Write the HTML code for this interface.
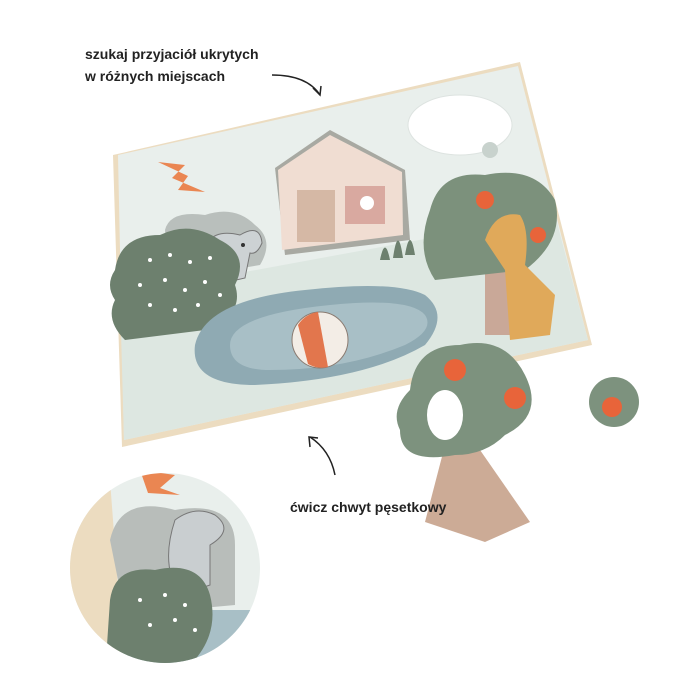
<!DOCTYPE html>
<html><head><meta charset="utf-8"><style>
html,body{margin:0;padding:0;background:#fff;}
svg{display:block}
text{font-family:"Liberation Sans",sans-serif;font-weight:bold;fill:#222}
</style></head><body>
<svg width="700" height="700" viewBox="0 0 700 700" xmlns="http://www.w3.org/2000/svg">
<defs>
<clipPath id="cc"><circle cx="165" cy="568" r="95"/></clipPath>
</defs>
<rect width="700" height="700" fill="#fff"/>
<polygon points="113,155 520,62 592,345 122,447" fill="#ecdcc0"/>
<polygon points="118,155 518,66 588,340 124,440" fill="#e9efec"/>
<polygon points="120,295 555,215 588,340 124,440" fill="#dde7e1"/>
<ellipse cx="460" cy="125" rx="52" ry="30" fill="#fff" stroke="#dde3e0"/>
<circle cx="490" cy="150" r="8" fill="#c8d2cd"/>
<polygon points="158,162 185,165 172,178 205,192 178,190 188,176" fill="#ea8652"/>
<polygon points="275,168 330,130 405,170 410,240 285,255" fill="#a8a9a2"/>
<polygon points="278,170 330,135 402,172 403,235 282,250" fill="#f0ddd2"/>
<rect x="297" y="190" width="38" height="52" fill="#d5b8a5"/>
<rect x="345" y="186" width="40" height="38" fill="#d9a9a0"/>
<circle cx="367" cy="203" r="7" fill="#fff"/>
<path d="M165,230 q5,-20 40,-15 q30,-10 50,10 q20,15 5,40 l-90,15 z" fill="#b9bfbc"/>
<path d="M205,250 q5,-22 35,-15 q20,-12 22,8 q-5,12 -12,10 l-5,25 l-35,8 z" fill="#cdd2d4" stroke="#777" stroke-width="1"/>
<circle cx="243" cy="245" r="2" fill="#333"/>
<path d="M115,270 q5,-35 45,-35 q30,-15 60,5 q30,15 15,45 q10,30 -30,45 l-80,10 q-20,-20 -10,-40 q-10,-15 0,-30z" fill="#6d806e"/>
<g fill="#fff">
<circle cx="150" cy="260" r="2"/><circle cx="170" cy="255" r="2"/><circle cx="190" cy="262" r="2"/><circle cx="210" cy="258" r="2"/>
<circle cx="140" cy="285" r="2"/><circle cx="165" cy="280" r="2"/><circle cx="185" cy="290" r="2"/><circle cx="205" cy="282" r="2"/>
<circle cx="150" cy="305" r="2"/><circle cx="175" cy="310" r="2"/><circle cx="198" cy="305" r="2"/><circle cx="220" cy="295" r="2"/>
</g>
<path d="M380,260 q5,-25 10,0 z M393,258 q5,-35 10,0 z M405,255 q5,-30 10,0 z" fill="#6d806e"/>
<path d="M195,345 q10,-45 110,-55 q90,-10 120,5 q25,20 0,50 q-60,35 -170,40 q-65,0 -60,-40z" fill="#8faab3"/>
<path d="M230,345 q0,-30 100,-40 q80,-8 95,10 q10,15 -20,30 q-60,25 -135,25 q-40,0 -40,-25z" fill="#a8bfc6"/>
<circle cx="320" cy="340" r="28" fill="#f3ede6" stroke="#8a7a70" stroke-width="1"/>
<path d="M298,325 a28,28 0 0 1 20,-13 l10,55 a28,28 0 0 1 -20,-3 z" fill="#e2764d"/>
<rect x="485" y="260" width="40" height="75" fill="#c9a898"/>
<path d="M430,210 q10,-40 55,-35 q50,-10 70,25 q10,40 -30,70 l-90,10 q-20,-30 -5,-70z" fill="#7c917c"/>
<circle cx="485" cy="200" r="9" fill="#e8643a"/>
<circle cx="538" cy="235" r="8" fill="#e8643a"/>
<path d="M485,240 q10,-30 35,-25 q10,15 5,50 l30,30 l-5,40 l-40,5 l-5,-70 z" fill="#e0a95a"/>
<path d="M445,445 l35,5 l50,72 l-45,20 l-60,-20 z" fill="#ccab96"/>
<path d="M410,390 q5,-45 50,-45 q45,-10 65,30 q20,40 -20,60 q-20,20 -50,20 q-55,10 -55,-25 q-10,-20 10,-40z" fill="#7d927e"/>
<ellipse cx="445" cy="415" rx="18" ry="25" fill="#fff"/>
<circle cx="455" cy="370" r="11" fill="#e8643a"/>
<circle cx="515" cy="398" r="11" fill="#e8643a"/>
<circle cx="614" cy="402" r="25" fill="#7d927e"/>
<circle cx="612" cy="407" r="10" fill="#e8643a"/>
<text x="85" y="59" font-size="14">szukaj przyjaciół ukrytych</text>
<text x="85" y="81" font-size="14">w różnych miejscach</text>
<path d="M272,75 q35,0 48,20" fill="none" stroke="#222" stroke-width="1.5"/>
<path d="M313,88 l7,7 l1,-9" fill="none" stroke="#222" stroke-width="1.5"/>
<path d="M335,475 q-5,-25 -25,-38" fill="none" stroke="#222" stroke-width="1.5"/>
<path d="M310,447 l-1,-10 l9,1" fill="none" stroke="#222" stroke-width="1.5"/>
<text x="290" y="512" font-size="14">ćwicz chwyt pęsetkowy</text>
<g clip-path="url(#cc)">
<rect x="60" y="460" width="220" height="220" fill="#e9efec"/>
<polygon points="60,480 110,480 125,680 60,680" fill="#ecdcc0"/>
<path d="M110,540 q10,-45 65,-30 q60,-10 60,35 l0,60 l-110,10z" fill="#b8bdba"/>
<path d="M175,520 q20,-15 40,-5 q20,15 -5,30 l0,40 l-30,10 q-20,-30 -5,-75z" fill="#c9ced0" stroke="#777"/>
<rect x="120" y="610" width="160" height="80" fill="#a8bfc6"/>
<path d="M110,600 q5,-35 45,-30 q45,-10 55,25 q10,40 -20,70 l-85,10z" fill="#6d806e"/>
<g fill="#fff"><circle cx="140" cy="600" r="2"/><circle cx="165" cy="595" r="2"/><circle cx="185" cy="605" r="2"/><circle cx="150" cy="625" r="2"/><circle cx="175" cy="620" r="2"/><circle cx="195" cy="630" r="2"/></g>
<polygon points="140,470 175,475 160,488 180,495 148,493" fill="#ea8652"/>
</g>
</svg>
</body></html>
